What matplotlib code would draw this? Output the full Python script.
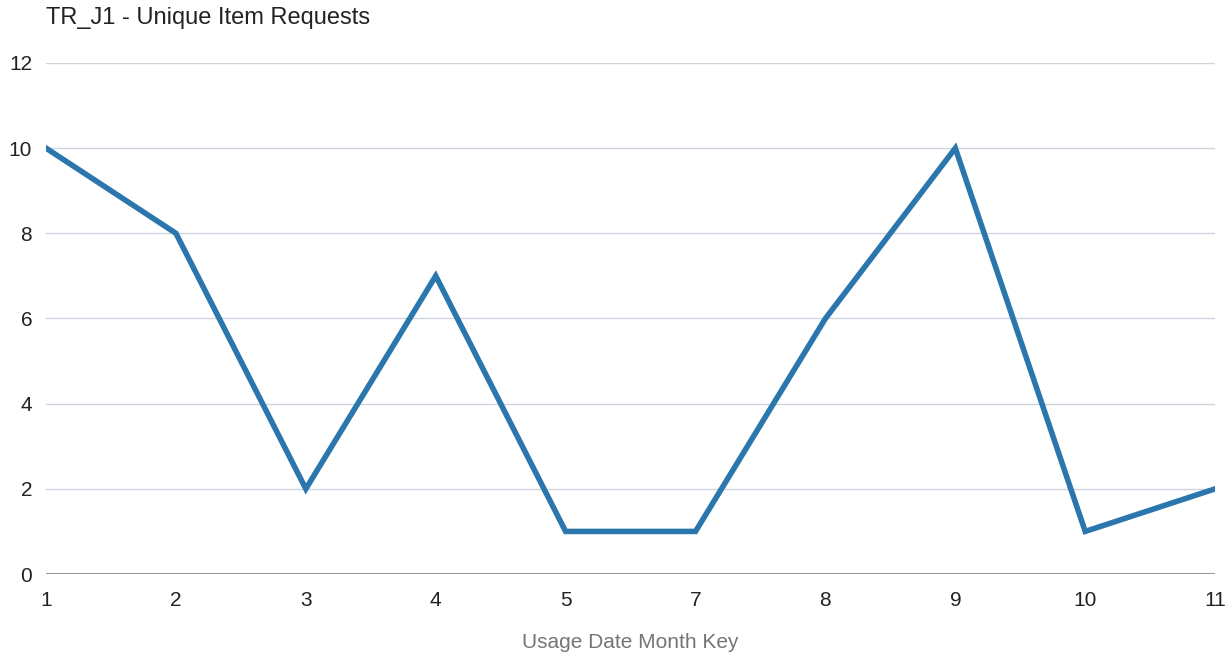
import matplotlib
matplotlib.use("Agg")
import matplotlib.pyplot as plt

# data
month_keys = ["1", "2", "3", "4", "5", "7", "8", "9", "10", "11"]
unique_item_requests = [10, 8, 2, 7, 1, 1, 6, 10, 1, 2]

plt.rcParams["font.family"] = ["Liberation Sans", "DejaVu Sans"]

fig = plt.figure(figsize=(12.31, 6.54), dpi=100)
ax = fig.add_axes([0.0374, 0.1223, 0.9497, 0.7814])

x = list(range(len(month_keys)))
ax.plot(x, unique_item_requests, color="#2b77ad", linewidth=4.0,
        solid_joinstyle="miter", zorder=3)

ax.set_xlim(0, len(month_keys) - 1)
ax.set_ylim(0, 12)
ax.set_yticks(range(0, 13, 2))
ax.set_xticks(x)
ax.set_xticklabels(month_keys)

ax.grid(axis="y", color="#cdd5de", linewidth=1)
ax.axhline(0, color="#9a9a9a", linewidth=1.5, zorder=2)
for s in ax.spines.values():
    s.set_visible(False)
ax.tick_params(axis="both", length=0, labelsize=15, colors="#222222")
ax.tick_params(axis="y", pad=10)
ax.tick_params(axis="x", pad=12)

ax.set_xlabel("Usage Date Month Key", fontsize=15, color="#757575", labelpad=17)
fig.text(0.0374, 0.972, "TR_J1 - Unique Item Requests", fontsize=17,
         color="#222222", ha="left", va="center")

fig.savefig("out.png", dpi=100)
